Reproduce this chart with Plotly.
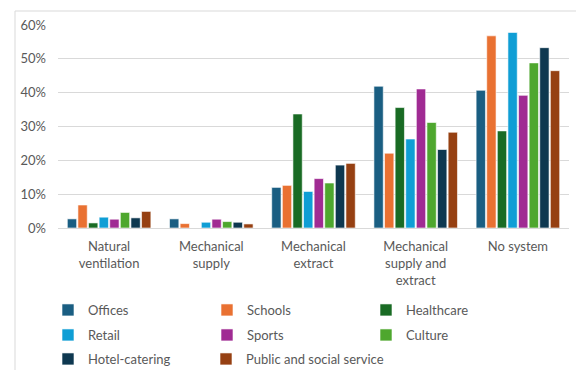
import plotly.graph_objects as go

categories = ["Natural<br>ventilation", "Mechanical<br>supply", "Mechanical<br>extract",
              "Mechanical<br>supply and<br>extract", "No system"]

offices = [0.027, 0.027, 0.120, 0.419, 0.407]
schools = [0.068, 0.013, 0.126, 0.221, 0.568]
healthcare = [0.015, 0.0, 0.337, 0.356, 0.287]
retail = [0.032, 0.017, 0.108, 0.263, 0.578]
sports = [0.026, 0.026, 0.146, 0.411, 0.392]
culture = [0.046, 0.019, 0.133, 0.312, 0.488]
hotel = [0.030, 0.017, 0.186, 0.232, 0.533]
public = [0.049, 0.012, 0.191, 0.283, 0.465]

series = [
    ("Offices", offices, "#1A5E82", "legend"),
    ("Schools", schools, "#E97132", "legend"),
    ("Healthcare", healthcare, "#196B24", "legend"),
    ("Retail", retail, "#0F9ED5", "legend2"),
    ("Sports", sports, "#A02B93", "legend2"),
    ("Culture", culture, "#4EA72E", "legend2"),
    ("Hotel-catering", hotel, "#0E3850", "legend3"),
    ("Public and social service", public, "#964012", "legend4"),
]

W, H = 576, 370
ml, mr, mt, mb = 58, 7, 25, 142
pw, ph = W - ml - mr, H - mt - mb

def px_x(x):
    return (x - ml) / pw

def px_y(y):
    return (H - mb - y) / ph

FONT = "Lato"
GRAY = "#595959"

fig = go.Figure()
for name, vals, color, lg in series:
    fig.add_trace(go.Bar(
        x=categories, y=vals, name=name, legend=lg,
        marker=dict(color=color, line=dict(color="white", width=0.6)),
    ))

legend_common = dict(
    orientation="h", xanchor="left", yanchor="middle",
    font=dict(family=FONT, size=13, color=GRAY),
    entrywidthmode="pixels", itemwidth=30,
    bgcolor="rgba(0,0,0,0)", borderwidth=0, tracegroupgap=0,
)
col1, col2 = 48, 206
fig.update_layout(
    width=W, height=H,
    margin=dict(l=ml, r=mr, t=mt, b=mb, pad=0, autoexpand=False),
    paper_bgcolor="white", plot_bgcolor="white",
    barmode="group", bargap=0.17, bargroupgap=0.12,
    font=dict(family=FONT, size=13, color=GRAY),
    legend=dict(x=px_x(col1), y=px_y(310), entrywidth=114, **legend_common),
    legend2=dict(x=px_x(col1), y=px_y(335), entrywidth=114, **legend_common),
    legend3=dict(x=px_x(col1), y=px_y(359), entrywidth=114, **legend_common),
    legend4=dict(x=px_x(col2), y=px_y(359), entrywidth=0, **legend_common),
    xaxis=dict(showline=False, showgrid=False, ticks="", ticklabelstandoff=9,
               tickfont=dict(family=FONT, size=13, color=GRAY)),
    yaxis=dict(range=[0, 0.6], dtick=0.1, tickformat=".0%",
               showgrid=True, gridcolor="#d9d9d9", gridwidth=1,
               zeroline=True, zerolinecolor="#d9d9d9", zerolinewidth=1,
               showline=False, ticks="", ticklabelstandoff=11,
               tickfont=dict(family=FONT, size=13, color=GRAY)),
    shapes=[dict(type="rect", xref="paper", yref="paper",
                 x0=px_x(15), x1=px_x(W + 20), y0=px_y(H + 20), y1=px_y(11),
                 line=dict(color="#d9d9d9", width=1), layer="below")],
)

fig.write_html("out.html")
